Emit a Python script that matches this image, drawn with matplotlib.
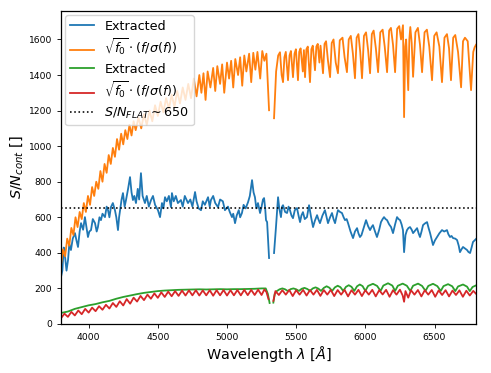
import numpy as np
import matplotlib
matplotlib.use("Agg")
import matplotlib.pyplot as plt

nan = np.nan

# S/N of the first extraction (blue)
blue_pts = [
    (3800, 264), (3810, 300), (3820, 430), (3829, 380), (3840, 300), (3851, 360), (3860, 450),
    (3872, 416), (3885, 480), (3901, 511), (3912, 470), (3923, 433), (3935, 520), (3945, 567),
    (3960, 530), (3973, 601), (3985, 540), (3995, 489), (4005, 520), (4017, 528), (4030, 590),
    (4046, 567), (4058, 520), (4067, 545), (4078, 600), (4089, 584), (4100, 620), (4118, 601),
    (4130, 660), (4140, 640), (4150, 600), (4161, 657), (4175, 680), (4190, 640), (4200, 600),
    (4212, 528), (4220, 600), (4227, 640), (4238, 700), (4248, 736), (4260, 660), (4270, 697),
    (4285, 760), (4299, 826), (4310, 740), (4320, 697), (4330, 720), (4342, 680), (4355, 760),
    (4365, 700), (4378, 848), (4390, 720), (4407, 680), (4420, 720), (4435, 660), (4451, 697),
    (4465, 720), (4480, 670), (4501, 640), (4516, 601), (4530, 680), (4540, 650), (4552, 713),
    (4565, 690), (4580, 720), (4595, 657), (4602, 736), (4615, 690), (4630, 720), (4645, 680),
    (4667, 697), (4680, 660), (4695, 720), (4718, 680), (4735, 700), (4750, 660), (4769, 742),
    (4780, 690), (4795, 650), (4812, 640), (4825, 690), (4840, 670), (4863, 713), (4875, 660),
    (4884, 697), (4900, 720), (4915, 680), (4935, 657), (4950, 700), (4970, 690), (4985, 640),
    (5007, 660), (5020, 630), (5036, 601), (5045, 620), (5058, 567), (5070, 610), (5085, 640),
    (5095, 600), (5108, 624), (5120, 670), (5135, 650), (5152, 685), (5165, 720), (5181, 809),
    (5192, 740), (5202, 713), (5212, 650), (5224, 680), (5239, 624), (5250, 660), (5260, 700),
    (5268, 708), (5276, 650), (5282, 584), (5290, 573), (5304, 371), (5320, nan),
    (5340, 399), (5354, 545), (5369, 713), (5378, 650), (5390, 601), (5398, 660), (5405, 668),
    (5420, 630), (5434, 624), (5445, 660), (5455, 640), (5466, 610), (5477, 595), (5490, 640),
    (5506, 652), (5517, 610), (5528, 573), (5538, 610), (5549, 629), (5562, 590), (5578, 601),
    (5593, 668), (5608, 600), (5622, 545), (5635, 580), (5651, 612), (5660, 590), (5672, 567),
    (5690, 610), (5708, 640), (5720, 600), (5730, 567), (5745, 600), (5759, 624), (5770, 590),
    (5781, 567), (5790, 600), (5802, 640), (5817, 630), (5831, 624), (5843, 600), (5853, 584),
    (5865, 590), (5875, 567), (5893, 520), (5911, 483), (5925, 520), (5940, 539), (5950, 510),
    (5961, 489), (5972, 500), (5983, 528), (5995, 560), (6005, 584), (6020, 550), (6034, 528),
    (6045, 545), (6055, 556), (6070, 520), (6084, 489), (6100, 530), (6113, 573), (6125, 590),
    (6135, 601), (6146, 590), (6157, 584), (6172, 560), (6186, 545), (6200, 511), (6215, 560),
    (6229, 601), (6240, 590), (6251, 584), (6262, 560), (6272, 528), (6280, 404), (6290, 500),
    (6301, 528), (6312, 540), (6323, 545), (6335, 530), (6345, 511), (6360, 525), (6374, 539),
    (6385, 510), (6395, 489), (6406, 520), (6417, 556), (6430, 565), (6446, 573), (6457, 540),
    (6468, 511), (6478, 480), (6489, 444), (6503, 470), (6518, 489), (6535, 510), (6554, 528),
    (6570, 520), (6590, 528), (6600, 505), (6612, 489), (6623, 495), (6634, 483), (6650, 480),
    (6663, 472), (6675, 440), (6684, 404), (6695, 420), (6706, 433), (6720, 425), (6735, 416),
    (6745, 405), (6757, 399), (6768, 430), (6778, 461), (6790, 470), (6800, 478),
]

# sqrt(f0) * f/sigma(f), first extraction (orange)
orange_pts = [
    (3800, 330), (3815, 420), (3830, 380), (3845, 480), (3860, 440), (3875, 540), (3890, 500),
    (3905, 600), (3920, 545), (3935, 630), (3950, 590), (3965, 680), (3980, 630), (3995, 720),
    (4010, 670), (4025, 770), (4040, 720), (4055, 800), (4070, 760), (4085, 860), (4100, 800),
    (4115, 900), (4130, 850), (4145, 950), (4160, 900), (4175, 990), (4190, 940), (4205, 1040),
    (4220, 980), (4235, 1070), (4250, 1010), (4265, 1090), (4280, 1040), (4295, 1120),
    (4310, 1060), (4325, 1140), (4340, 1090), (4360, 1160), (4380, 1100), (4400, 1180),
    (4420, 1120), (4440, 1200), (4460, 1140), (4480, 1230), (4500, 1170), (4520, 1250),
    (4540, 1190), (4560, 1270), (4580, 1210), (4600, 1290), (4620, 1220), (4640, 1310),
    (4660, 1240), (4680, 1330), (4700, 1260), (4720, 1350), (4740, 1270), (4760, 1380),
    (4780, 1280), (4800, 1400), (4815, 1300), (4830, 1410), (4845, 1260), (4860, 1420),
    (4880, 1330), (4900, 1440), (4915, 1310), (4930, 1450), (4950, 1350), (4965, 1460),
    (4980, 1300), (5000, 1470), (5015, 1380), (5030, 1480), (5045, 1330), (5060, 1490),
    (5080, 1400), (5095, 1500), (5110, 1340), (5125, 1510), (5140, 1420), (5160, 1520),
    (5175, 1360), (5190, 1525), (5205, 1430), (5220, 1530), (5240, 1380), (5255, 1535),
    (5270, 1480), (5285, 1520), (5304, 1202), (5320, nan),
    (5340, 1157), (5355, 1420), (5370, 1510), (5383, 1528), (5395, 1400), (5405, 1360),
    (5415, 1500), (5425, 1530), (5441, 1371), (5452, 1510), (5462, 1535), (5477, 1388),
    (5488, 1520), (5498, 1545), (5513, 1371), (5522, 1530), (5532, 1550), (5548, 1420),
    (5556, 1540), (5564, 1388), (5574, 1545), (5584, 1560), (5600, 1360), (5610, 1545),
    (5620, 1565), (5636, 1427), (5646, 1560), (5656, 1575), (5668, 1470), (5676, 1565),
    (5694, 1410), (5705, 1575), (5716, 1590), (5730, 1480), (5745, 1388), (5757, 1580),
    (5770, 1600), (5786, 1470), (5802, 1410), (5815, 1595), (5835, 1610), (5850, 1500),
    (5867, 1416), (5880, 1600), (5895, 1620), (5910, 1520), (5925, 1382), (5937, 1610),
    (5950, 1630), (5963, 1530), (5976, 1382), (5990, 1620), (6005, 1640), (6020, 1540),
    (6034, 1410), (6047, 1630), (6060, 1650), (6076, 1550), (6092, 1416), (6108, 1640),
    (6125, 1655), (6140, 1560), (6157, 1416), (6172, 1650), (6185, 1665), (6200, 1570),
    (6215, 1416), (6230, 1660), (6245, 1675), (6258, 1600), (6272, 1680), (6280, 1163),
    (6288, 1560), (6295, 1600), (6310, 1315), (6318, 1600), (6325, 1670), (6335, 1580),
    (6345, 1390), (6362, 1640), (6380, 1665), (6395, 1570), (6410, 1416), (6428, 1640),
    (6445, 1655), (6462, 1560), (6482, 1371), (6498, 1620), (6515, 1640), (6535, 1560),
    (6554, 1360), (6572, 1610), (6590, 1630), (6605, 1550), (6619, 1371), (6635, 1610),
    (6650, 1625), (6670, 1530), (6692, 1331), (6706, 1590), (6720, 1610), (6740, 1590),
    (6764, 1315), (6780, 1530), (6790, 1556), (6800, 1570),
]

# S/N of the second extraction (green)
green_pts = [
    (3800, 62), (3850, 70), (3900, 85), (3950, 95), (4000, 105), (4050, 112), (4100, 122),
    (4150, 130), (4200, 142), (4250, 152), (4300, 160), (4350, 168), (4400, 175), (4450, 180),
    (4500, 185), (4550, 188), (4600, 190), (4650, 192), (4700, 193), (4750, 194), (4800, 195),
    (4850, 194), (4900, 195), (4950, 196), (5000, 195), (5050, 196), (5100, 196), (5150, 197),
    (5200, 198), (5250, 200), (5280, 200), (5295, 170), (5308, 118), (5320, nan),
    (5335, 120), (5345, 170), (5360, 185), (5380, 195), (5400, 200), (5420, 195), (5440, 185),
    (5460, 196), (5480, 200), (5500, 195), (5520, 186), (5540, 198), (5560, 203), (5580, 197),
    (5600, 186), (5620, 200), (5640, 206), (5660, 199), (5680, 186), (5700, 203), (5720, 212),
    (5740, 204), (5760, 186), (5780, 206), (5800, 215), (5820, 207), (5840, 186), (5860, 209),
    (5880, 218), (5900, 209), (5920, 186), (5940, 212), (5960, 222), (5980, 213), (6000, 186),
    (6020, 214), (6055, 226), (6085, 214), (6110, 186), (6130, 216), (6164, 229), (6195, 216),
    (6215, 186), (6235, 215), (6270, 227), (6300, 215), (6325, 186), (6345, 215), (6381, 227),
    (6410, 214), (6435, 186), (6455, 214), (6489, 226), (6520, 213), (6545, 186), (6565, 213),
    (6598, 224), (6628, 212), (6650, 185), (6670, 211), (6706, 222), (6735, 210), (6755, 185),
    (6775, 208), (6800, 217),
]

# sqrt(f0) * f/sigma(f), second extraction (red)
red_pts = [
    (3800, 32), (3825, 58), (3850, 40), (3875, 68), (3900, 48), (3925, 76), (3950, 55),
    (3975, 85), (4000, 64), (4025, 92), (4050, 72), (4075, 100), (4100, 80), (4125, 108),
    (4150, 87), (4175, 118), (4200, 96), (4225, 128), (4250, 104), (4275, 140), (4300, 114),
    (4325, 148), (4350, 126), (4375, 158), (4400, 134), (4425, 165), (4450, 142), (4475, 172),
    (4500, 147), (4525, 178), (4550, 152), (4575, 182), (4600, 156), (4625, 185), (4650, 158),
    (4675, 188), (4700, 160), (4725, 189), (4750, 161), (4775, 190), (4800, 160), (4825, 189),
    (4850, 161), (4875, 190), (4900, 159), (4925, 190), (4950, 161), (4975, 191), (5000, 160),
    (5025, 190), (5050, 161), (5075, 191), (5100, 161), (5125, 192), (5150, 162), (5175, 192),
    (5200, 163), (5225, 193), (5250, 163), (5270, 194), (5285, 180), (5300, 140), (5320, nan),
    (5335, 130), (5350, 185), (5375, 163), (5400, 190), (5425, 165), (5450, 191), (5475, 157),
    (5500, 190), (5525, 165), (5550, 192), (5575, 160), (5600, 191), (5625, 165), (5650, 192),
    (5675, 158), (5700, 191), (5725, 165), (5750, 192), (5775, 157), (5800, 191), (5825, 165),
    (5850, 192), (5875, 155), (5900, 190), (5925, 165), (5950, 192), (5975, 157), (6000, 190),
    (6025, 165), (6050, 192), (6075, 155), (6100, 190), (6125, 166), (6150, 192), (6175, 153),
    (6200, 190), (6225, 165), (6250, 193), (6270, 160), (6280, 125), (6290, 185), (6310, 148),
    (6330, 190), (6355, 165), (6380, 191), (6405, 155), (6430, 190), (6455, 165), (6480, 191),
    (6505, 153), (6530, 189), (6555, 163), (6580, 190), (6605, 155), (6630, 188), (6655, 163),
    (6680, 189), (6705, 153), (6730, 187), (6755, 160), (6780, 186), (6800, 170),
]

flat_sn = 650
sqrt_label = r'$\sqrt{f_0}\cdot(f/\sigma(f))$'

fig = plt.figure(figsize=(4.91, 3.73), dpi=100)
ax = fig.add_axes([0.1242, 0.1314, 0.8453, 0.8391])

lw = 1.3
for pts, col, lab in [(blue_pts, 'C0', 'Extracted'),
                      (orange_pts, 'C1', sqrt_label),
                      (green_pts, 'C2', 'Extracted'),
                      (red_pts, 'C3', sqrt_label)]:
    wl, sn = np.array(pts, dtype=float).T
    ax.plot(wl, sn, color=col, lw=lw, label=lab)

ax.axhline(flat_sn, color='k', ls=':', lw=1.15, label=r'$S/N_{FLAT}\sim650$')

ax.set_xlim(3800, 6800)
ax.set_ylim(0, 1760)
ax.set_xticks([4000, 4500, 5000, 5500, 6000, 6500])
ax.set_yticks([0, 200, 400, 600, 800, 1000, 1200, 1400, 1600])
ax.tick_params(labelsize=6.6, length=2.7, width=0.62)
for s in ax.spines.values():
    s.set_linewidth(0.9)

ax.set_xlabel(r'Wavelength $\lambda$ [$\AA$]', fontsize=10.4, labelpad=1.5)
ax.set_ylabel(r'$S/N_{cont}$ []', fontsize=10.4, labelpad=3)
ax.legend(loc='upper left', fontsize=9.2, borderaxespad=0.35, handlelength=1.9,
          borderpad=0.35, labelspacing=0.35)

fig.savefig('out.png', dpi=100)
